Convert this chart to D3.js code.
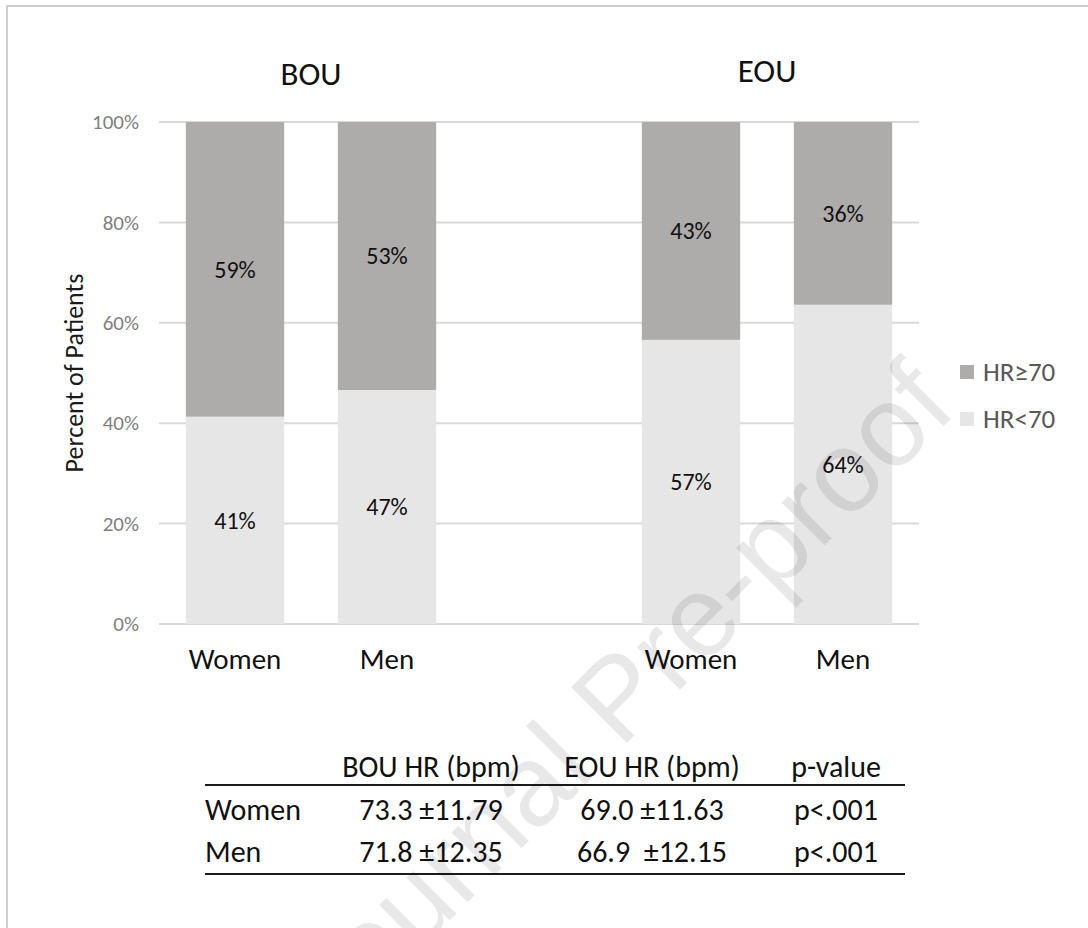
<!DOCTYPE html>
<html>
<head>
<meta charset="utf-8">
<script src="https://cdn.jsdelivr.net/npm/d3@7"></script>
<style>
  html, body { margin: 0; padding: 0; background: #fff; }
  svg { display: block; }
  text { font-family: Carlito, Calibri, Lato, sans-serif; white-space: pre; }
</style>
</head>
<body>
<svg id="chart" width="1088" height="928"></svg>
<script>
// ---- data ----
const groups = ["BOU", "EOU"];
const sexes = ["Women", "Men"];
const categories = ["BOU|Women", "BOU|Men", "", "EOU|Women", "EOU|Men"];
const seriesNames = ["HR<70", "HR≥70"];
const hrBelow70 = [41.3, 46.6, 56.6, 63.6];   // % of patients, HR<70
const hrAbove70 = [58.7, 53.4, 43.4, 36.4];   // % of patients, HR≥70
const yTicks = [0, 20, 40, 60, 80, 100];
const tableHeader = ["", "BOU HR (bpm)", "EOU HR (bpm)", "p-value"];
const tableRowLabels = ["Women", "Men"];
const tableBOU = ["73.3 ±11.79", "71.8 ±12.35"];
const tableEOU = ["69.0 ±11.63", "66.9  ±12.15"];
const tablePValue = ["p<.001", "p<.001"];
const watermark = "Journal Pre-proof";

const colors = { "HR<70": "#E7E6E6", "HR≥70": "#AEABAB" };

const svg = d3.select("#chart");

// border (frame cut at right/bottom)
svg.append("rect").attr("x", 7).attr("y", 6).attr("width", 1200).attr("height", 1000)
  .attr("fill", "none").attr("stroke", "#bfbfbf").attr("stroke-width", 1.5);

const barCats = categories.filter(c => c !== "");
const data = barCats.map((c, i) => ({ cat: c, "HR<70": hrBelow70[i], "HR≥70": hrAbove70[i] }));

const x = d3.scaleBand().domain(categories).range([159, 919]).paddingInner(0.353).paddingOuter(0.1765);
const y = d3.scaleLinear().domain([0, 100]).range([624, 122]);

// gridlines
svg.append("g").selectAll("line").data(yTicks).join("line")
  .attr("x1", 159).attr("x2", 919)
  .attr("y1", d => y(d)).attr("y2", d => y(d))
  .attr("stroke", "#d9d9d9").attr("stroke-width", 2);

// y axis tick labels
const yAxis = d3.axisLeft(y).tickValues(yTicks).tickFormat(d => d + "%").tickSize(0).tickPadding(0);
const yg = svg.append("g").attr("transform", "translate(139,0)").call(yAxis);
yg.select(".domain").remove();
yg.selectAll("text").attr("font-size", 21).attr("fill", "#7f7f7f")
  .style("font-family", "Carlito, Calibri, Lato, sans-serif");

// y title
svg.append("text").attr("transform", "translate(83,373) rotate(-90)")
  .attr("text-anchor", "middle").attr("font-size", 26).attr("fill", "#1a1a1a")
  .text("Percent of Patients");

// stacked bars
const stack = d3.stack().keys(seriesNames);
const stacked = stack(data);
const layers = svg.append("g").selectAll("g").data(stacked).join("g")
  .attr("fill", d => colors[d.key]);
layers.selectAll("rect").data(d => d).join("rect")
  .attr("x", d => x(d.data.cat))
  .attr("width", x.bandwidth())
  .attr("y", d => y(d[1]))
  .attr("height", d => y(d[0]) - y(d[1]));

// data labels
const fmt = d3.format(".0%");
const lab = svg.append("g");
stacked.forEach(layer => {
  lab.selectAll(null).data(layer).join("text")
    .attr("x", d => x(d.data.cat) + x.bandwidth() / 2)
    .attr("y", d => y((d[0] + d[1]) / 2))
    .attr("dy", "0.35em")
    .attr("text-anchor", "middle").attr("font-size", 24).attr("fill", "#111")
    .text(d => fmt((d[1] - d[0]) / 100));
});

// category labels
svg.append("g").selectAll("text").data(barCats).join("text")
  .attr("x", d => x(d) + x.bandwidth() / 2)
  .attr("y", 669)
  .attr("text-anchor", "middle").attr("font-size", 29).attr("fill", "#111")
  .text(d => d.split("|")[1]);

// group titles
const groupY = { "BOU": 85, "EOU": 82 };
svg.append("g").selectAll("text").data(groups).join("text")
  .attr("x", g => (x(g + "|Women") + x(g + "|Men") + x.bandwidth()) / 2)
  .attr("y", g => groupY[g])
  .attr("text-anchor", "middle").attr("font-size", 33).attr("fill", "#111")
  .text(g => g);

// legend (HR≥70 on top)
const legendKeys = seriesNames.slice().reverse();
const lg = svg.append("g").selectAll("g").data(legendKeys).join("g")
  .attr("transform", (d, i) => `translate(960,${365 + i * 47})`);
lg.append("rect").attr("width", 14).attr("height", 14).attr("fill", d => colors[d]);
lg.append("text").attr("x", 23).attr("y", 7).attr("dy", "0.35em")
  .attr("font-size", 27).attr("fill", "#595959").text(d => d);

// table
const tbl = svg.append("g");
const colX = [205, 431, 652, 836];
const anchors = ["start", "middle", "middle", "middle"];
const rowY = [777, 820, 862];
const rows = [tableHeader].concat(tableRowLabels.map((r, i) => [r, tableBOU[i], tableEOU[i], tablePValue[i]]));
rows.forEach((row, ri) => {
  tbl.selectAll(null).data(row).join("text")
    .attr("x", (d, ci) => colX[ci]).attr("y", rowY[ri])
    .attr("text-anchor", (d, ci) => anchors[ci])
    .attr("font-size", 30).attr("fill", "#111")
    .text(d => d);
});
tbl.selectAll("line").data([785, 874]).join("line")
  .attr("x1", 205).attr("x2", 905).attr("y1", d => d).attr("y2", d => d)
  .attr("stroke", "#1a1a1a").attr("stroke-width", 2);

// watermark
svg.append("text")
  .attr("transform", "translate(645,725) rotate(-45)")
  .attr("text-anchor", "middle")
  .attr("font-size", 115)
  .style("font-family", "'Liberation Sans', Arial, sans-serif")
  .attr("fill", "#000").attr("fill-opacity", 0.09)
  .text(watermark);
</script>
</body>
</html>
